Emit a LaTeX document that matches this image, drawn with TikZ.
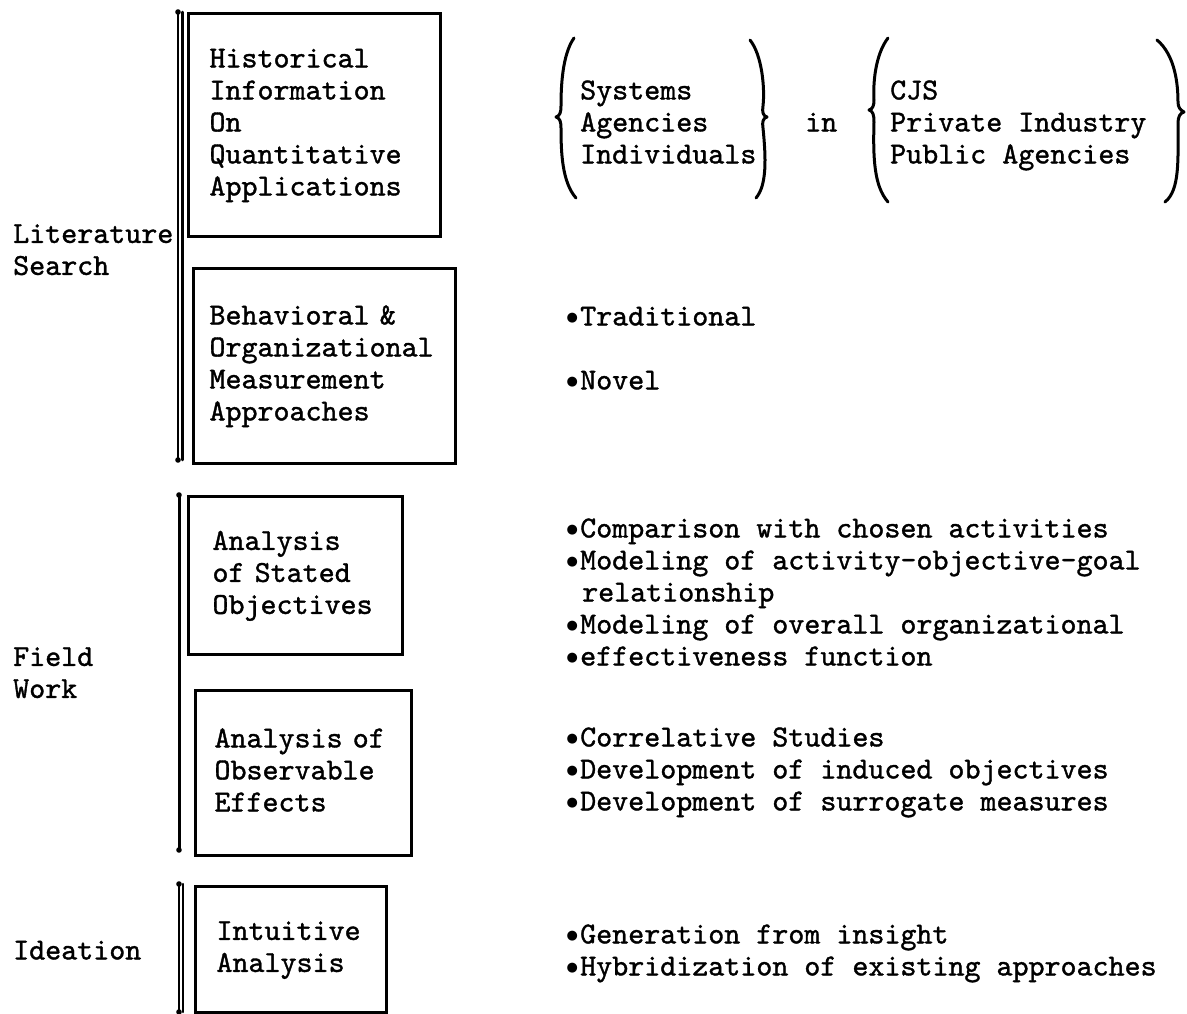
\documentclass[tikz,border=0pt]{standalone}
\usepackage{fontspec}
\newfontfamily\tw{lmmono10-regular.otf}[FakeBold=1.2]
\newfontfamily\dv{DejaVu Sans}
% small round bullet set before an item
\newcommand\bul{\makebox[15pt][l]{\hspace{1.5pt}\raisebox{3.5pt}{\dv\fontsize{13}{13}\selectfont ●}}}
\begin{document}
\begin{tikzpicture}[x=1pt,y=-1pt,
  every node/.style={font=\tw\fontsize{30.5}{32}\selectfont, inner sep=0pt},
  box/.style={draw, line width=3pt, align=left, anchor=north west, inner ysep=0pt},
  txt/.style={align=left, anchor=west},
  bar/.style={line width=2.5pt, line cap=round},
  brace/.style={line width=3pt, line cap=round, line join=round}]
\useasboundingbox[fill=white] (0,0) rectangle (1187,1014);

% ---- phase brackets ----
\coordinate (litT) at (178,12);   \coordinate (litB) at (178,460);
\coordinate (fldT) at (179,495);  \coordinate (fldB) at (179,850);
\coordinate (ideT) at (179,884);  \coordinate (ideB) at (179,1012);
\draw[bar] (litT) -- (litB);
\draw[bar] ([xshift=4.5pt]litT) -- ([xshift=4.5pt]litB);
\draw[bar, line width=3pt] (fldT) -- (fldB);
\draw[bar] (ideT) -- (ideB);
\draw[bar] ([xshift=4pt]ideT) -- ([xshift=4pt]ideB);
\foreach \c in {litT,litB,fldT,fldB,ideT,ideB} \fill (\c) circle (2.8pt);

% ---- phase labels ----
\node[txt] (lit) at (13,252.5) {\strut Literature\\Search\strut};
\node[txt] (fld) at (13,675.5) {\strut Field\\Work\strut};
\node[txt] (ide) at (13,953) {\strut Ideation\strut};

% ---- activity boxes ----
\node[box, inner xsep=21pt, text width=210pt, minimum width=252pt, minimum height=223pt]
  (hist) at (187,12) {\strut Historical\\Information\\On\\Quantitative\\Applications\strut};
\node[box, inner xsep=16pt, text width=230pt, minimum width=262pt, minimum height=195pt]
  (behav) at (192,267) {\strut Behavioral \&\\Organizational\\Measurement\\Approaches\strut};
\node[box, inner xsep=24pt, text width=166pt, minimum width=214pt, minimum height=158pt]
  (stated) at (187,495) {\strut Analysis\\of Stated\\Objectives\strut};
\node[box, inner xsep=19pt, text width=178pt, minimum width=216pt, minimum height=165pt]
  (observ) at (194,689) {\strut Analysis of\\Observable\\Effects\strut};
\node[box, inner xsep=21pt, text width=149pt, minimum width=191pt, minimum height=126pt]
  (intuit) at (194,885) {\strut Intuitive\\Analysis\strut};

% ---- braced lists ----
\draw[brace] (574,38) .. controls (562,55) and (561,88) .. (561,106)
  .. controls (561,112) and (560,116) .. (556,117)
  .. controls (560,118) and (561,122) .. (561,128)
  .. controls (561,152) and (562,182) .. (576,198);
\draw[brace] (750,40) .. controls (762,55) and (765,88) .. (763,106)
  .. controls (762,112) and (763,116) .. (767,117)
  .. controls (763,118) and (762,122) .. (763,128)
  .. controls (766,158) and (767,185) .. (756,198);
\node[txt] (who) at (580,125) {\strut Systems\\Agencies\\Individuals\strut};
\node[txt] (in) at (805,125) {\strut in\strut};
\draw[brace] (888,38) .. controls (875,55) and (873,84) .. (874,100)
  .. controls (874,105) and (873,109) .. (869,110)
  .. controls (873,111) and (874,115) .. (874,122)
  .. controls (873,158) and (874,186) .. (888,202);
\draw[brace] (1157,40) .. controls (1175,55) and (1178,84) .. (1178,102)
  .. controls (1178,107) and (1180,110) .. (1184,112)
  .. controls (1180,113) and (1178,117) .. (1178,123)
  .. controls (1178,160) and (1180,190) .. (1165,202);
\node[txt] (where) at (890,125) {\strut CJS\\Private Industry\\Public Agencies\strut};

% ---- bullet lists ----
\node[txt] (meas) at (565,351) {\strut\bul Traditional\\[32pt]\bul Novel\strut};
\node[txt] (obj) at (565,595) {\strut\bul Comparison with chosen activities\\
  \bul Modeling of activity-objective-goal\\
  \hspace*{17pt}relationship\\
  \bul Modeling of overall organizational\\
  \bul effectiveness function\strut};
\node[txt] (eff) at (565,772) {\strut\bul Correlative Studies\\
  \bul Development of induced objectives\\
  \bul Development of surrogate measures\strut};
\node[txt] (idea) at (565,953) {\strut\bul Generation from insight\\
  \bul Hybridization of existing approaches\strut};
\end{tikzpicture}
\end{document}
